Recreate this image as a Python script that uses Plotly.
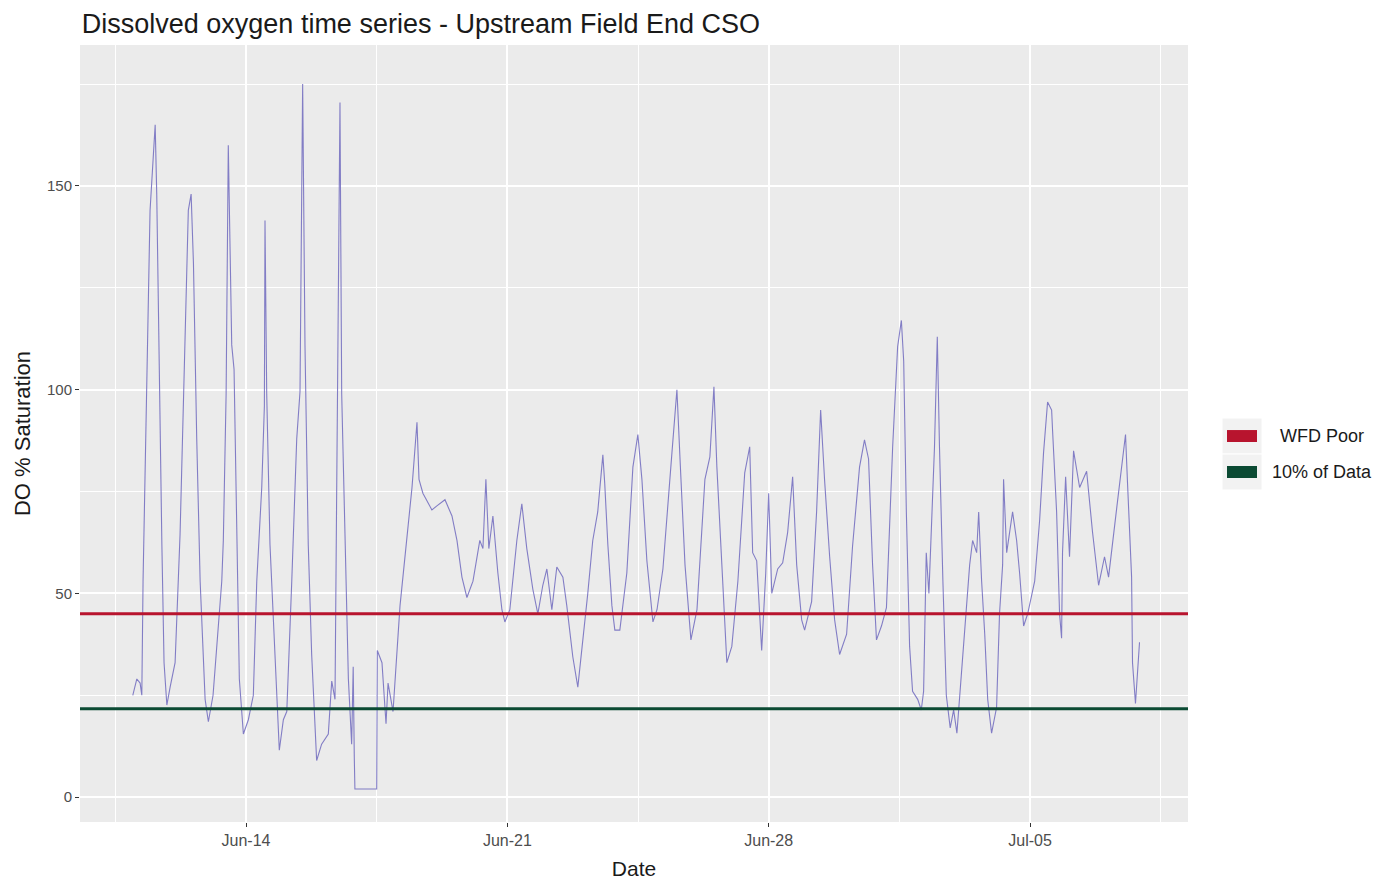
import pandas as pd
import plotly.graph_objects as go

# Dissolved oxygen readings: hours after the first logged sample, and % saturation
start_time = "2021-06-10 23:00"
hours = [
    0.2, 2.8, 4.9, 6.0, 6.8, 9.2, 11.3, 13.5, 14.6, 15.6, 17.3, 18.9, 20.3, 22.1,
    24.2, 27.4, 30.6, 33.8, 35.9, 37.7, 39.2, 41.3, 43.5, 46.7, 48.8, 51.8, 55.0,
    57.4, 58.4, 60.2, 61.6, 62.7, 63.8, 65.3, 67.0, 68.7, 71.3, 74.5, 77.7, 79.9,
    83.1, 84.8, 85.2, 86.3, 88.4, 91.0, 94.4, 97.0, 99.2, 102.4, 105.6, 107.7,
    109.4, 110.9, 113.0, 115.2, 118.4, 121.6, 125.9, 128.1, 130.2, 131.3, 132.3,
    133.4, 134.5, 136.6, 138.8, 140.9, 141.9, 142.6, 143.0, 157.0, 157.4, 160.4,
    163.0, 164.3, 167.5, 172.0, 176.5, 179.7, 182.9, 184.2, 186.7, 192.5, 195.7,
    200.9, 205.4, 208.6, 211.8, 215.0, 218.9, 223.3, 225.3, 227.2, 229.1, 231.7,
    234.9, 237.5, 239.4, 242.6, 247.1, 250.3, 253.5, 257.4, 260.6, 263.8, 266.4,
    269.6, 272.8, 276.7, 279.2, 283.1, 286.3, 289.5, 292.7, 295.9, 299.1, 302.4,
    303.6, 305.6, 308.2, 310.1, 313.3, 317.8, 321.7, 324.9, 327.5, 330.7, 334.6,
    337.2, 341.0, 346.8, 350.0, 352.0, 355.2, 359.0, 362.9, 368.0, 371.2, 373.8,
    375.7, 378.9, 382.1, 385.3, 389.2, 393.6, 396.8, 398.7, 401.3, 404.5, 407.1,
    409.0, 411.0, 414.8, 418.0, 421.2, 424.4, 427.0, 430.2, 432.1, 436.6, 439.8,
    442.4, 444.9, 448.2, 451.4, 454.6, 459.1, 462.9, 467.4, 470.6, 473.2, 475.8,
    478.3, 481.5, 484.7, 488.7, 491.9, 494.3, 495.8, 497.5, 499.6, 501.5, 504.8,
    507.1, 508.6, 510.3, 512.0, 514.2, 515.6, 517.4, 518.8, 521.0, 523.2, 525.7,
    527.9, 530.0, 532.8, 536.2, 538.2, 540.1, 542.7, 544.0, 545.9, 547.9, 549.8,
    552.3, 555.5, 557.4, 559.4, 560.0, 562.0, 565.8, 568.4, 570.3, 572.9, 575.5,
    580.0, 583.2, 585.7, 588.3, 590.9, 591.5, 594.1, 596.0, 597.3, 597.9, 599.9,
    602.4, 605.0, 608.9, 613.4, 617.2, 621.1, 624.9, 627.5, 632.6, 638.4, 639.7,
    642.3, 642.9, 644.8, 647.4,
]
do_saturation = [
    25, 29, 28, 25, 53, 99, 144, 158, 165, 148, 99, 62, 33, 22.6,
    27, 33, 64.6, 111, 144, 148, 131, 88, 53, 24, 18.5, 25, 41,
    53, 63, 99, 160, 134, 111, 105, 62, 29, 15.5, 19, 25, 53,
    76, 96, 141.5, 99, 62, 39, 11.5, 19, 21, 53, 88, 99.5,
    175, 111, 62, 35, 9, 13, 15.5, 28.5, 24, 76, 131,
    170.5, 99, 62, 29, 13, 32, 9.8, 2, 2, 36, 33,
    18, 28, 21, 47, 63, 76, 92, 78, 74.6, 70.5, 71.5,
    73, 69, 63, 54, 49, 53, 63, 61, 78, 61, 69,
    55, 46, 43, 46, 63, 72, 61, 51, 45, 52, 56,
    46, 56.5, 54, 47, 34.4, 27, 38, 50, 63, 70, 84,
    77, 62, 47, 41, 41, 55, 81, 89, 78, 58, 43,
    46, 56, 84.5, 100, 83, 57, 38.6, 46, 78, 83.5, 100.7,
    81, 57, 33, 37, 53, 79.6, 86, 60, 58, 36, 55,
    74.6, 50, 56, 57.5, 65, 78.6, 57, 43.5, 41, 48, 70,
    95, 78, 59, 43.5, 35, 40, 61.5, 81, 87.7, 83, 57,
    38.6, 42, 46.5, 86, 110.6, 117, 107, 70, 37, 26, 24,
    21.4, 26, 60, 50, 73.7, 86, 113, 86, 53, 25, 17,
    21.4, 15.7, 30, 45, 57, 63, 60, 70, 53, 40, 24,
    15.7, 22, 45, 57, 78, 60, 70, 63, 55, 42, 45,
    53, 68, 84.5, 97, 95, 90, 70, 45, 39, 60, 78.6,
    59, 85, 76, 80, 65, 52, 59, 54, 70.5, 89, 77,
    54, 33, 23, 38,
]

# Reference thresholds (% saturation)
threshold_names = ["WFD Poor", "10% of Data"]
threshold_values = [45.0, 21.7]
threshold_colors = ["#B8142E", "#0B4A33"]

x_range = ["2021-06-09 13:16", "2021-07-09 05:34"]
y_range = [-6.1, 184.6]

times = pd.Timestamp(start_time) + pd.to_timedelta(hours, unit="h")

fig = go.Figure()
fig.add_trace(go.Scatter(
    x=times, y=do_saturation, mode="lines",
    line=dict(color="rgba(112,106,190,0.85)", width=1.1),
    showlegend=False, hoverinfo="x+y",
))

for name, val, col in zip(threshold_names, threshold_values, threshold_colors):
    fig.add_trace(go.Scatter(
        x=x_range, y=[val, val], mode="lines",
        line=dict(color=col, width=3), name=name, showlegend=False,
    ))

# Hand-drawn legend to the right of the panel (keys and labels)
key_rows = [(0.4736, 0.5199), (0.4273, 0.4736)]
shapes = []
annotations = []
for (y0, y1), name, col in zip(key_rows, threshold_names, threshold_colors):
    shapes.append(dict(type="rect", xref="paper", yref="paper",
                       x0=1.0307, x1=1.0668, y0=y0, y1=y1,
                       fillcolor="#F2F2F2", line=dict(color="white", width=1),
                       layer="below"))
    yc = (y0 + y1) / 2
    shapes.append(dict(type="rect", xref="paper", yref="paper",
                       x0=1.0352, x1=1.0623, y0=yc - 0.0077, y1=yc + 0.0077,
                       fillcolor=col, line=dict(width=0)))
    annotations.append(dict(xref="paper", yref="paper", x=1.1209, y=yc,
                            text=name, showarrow=False, xanchor="center",
                            yanchor="middle",
                            font=dict(size=18, color="#1A1A1A")))

font_family = "Liberation Sans, Arial, sans-serif"

fig.update_layout(
    width=1377, height=884,
    margin=dict(l=80, r=189, t=45, b=62),
    paper_bgcolor="white",
    plot_bgcolor="#EBEBEB",
    font=dict(family=font_family, color="#1A1A1A"),
    title=dict(text="Dissolved oxygen time series - Upstream Field End CSO",
               x=0.0016, xanchor="left", xref="paper",
               y=0.973, yanchor="middle", yref="container",
               font=dict(size=27, color="#1A1A1A")),
    shapes=shapes,
    annotations=annotations,
    showlegend=False,
    xaxis=dict(
        range=x_range, type="date", automargin=False,
        tick0="2021-06-14", dtick=7 * 86400000, tickformat="%b-%d",
        showgrid=True, gridcolor="white", gridwidth=1.8,
        minor=dict(tick0="2021-06-10 12:00", dtick=7 * 86400000,
                   showgrid=True, gridcolor="white", gridwidth=0.9),
        ticks="outside", ticklen=4, tickcolor="#333333", tickwidth=1,
        tickfont=dict(size=16, color="#4D4D4D"),
        zeroline=False, showline=False,
        title=dict(text="Date", font=dict(size=21, color="#1A1A1A"), standoff=13),
    ),
    yaxis=dict(
        range=y_range, dtick=50, tick0=0, automargin=False,
        showgrid=True, gridcolor="white", gridwidth=1.8,
        minor=dict(dtick=25, tick0=0, showgrid=True, gridcolor="white",
                   gridwidth=0.9),
        ticks="outside", ticklen=4, tickcolor="#333333", tickwidth=1,
        tickfont=dict(size=15, color="#4D4D4D"),
        zeroline=False, showline=False,
        title=dict(text="DO % Saturation", font=dict(size=22, color="#1A1A1A"),
                   standoff=10),
    ),
)

fig.write_html("out.html")
